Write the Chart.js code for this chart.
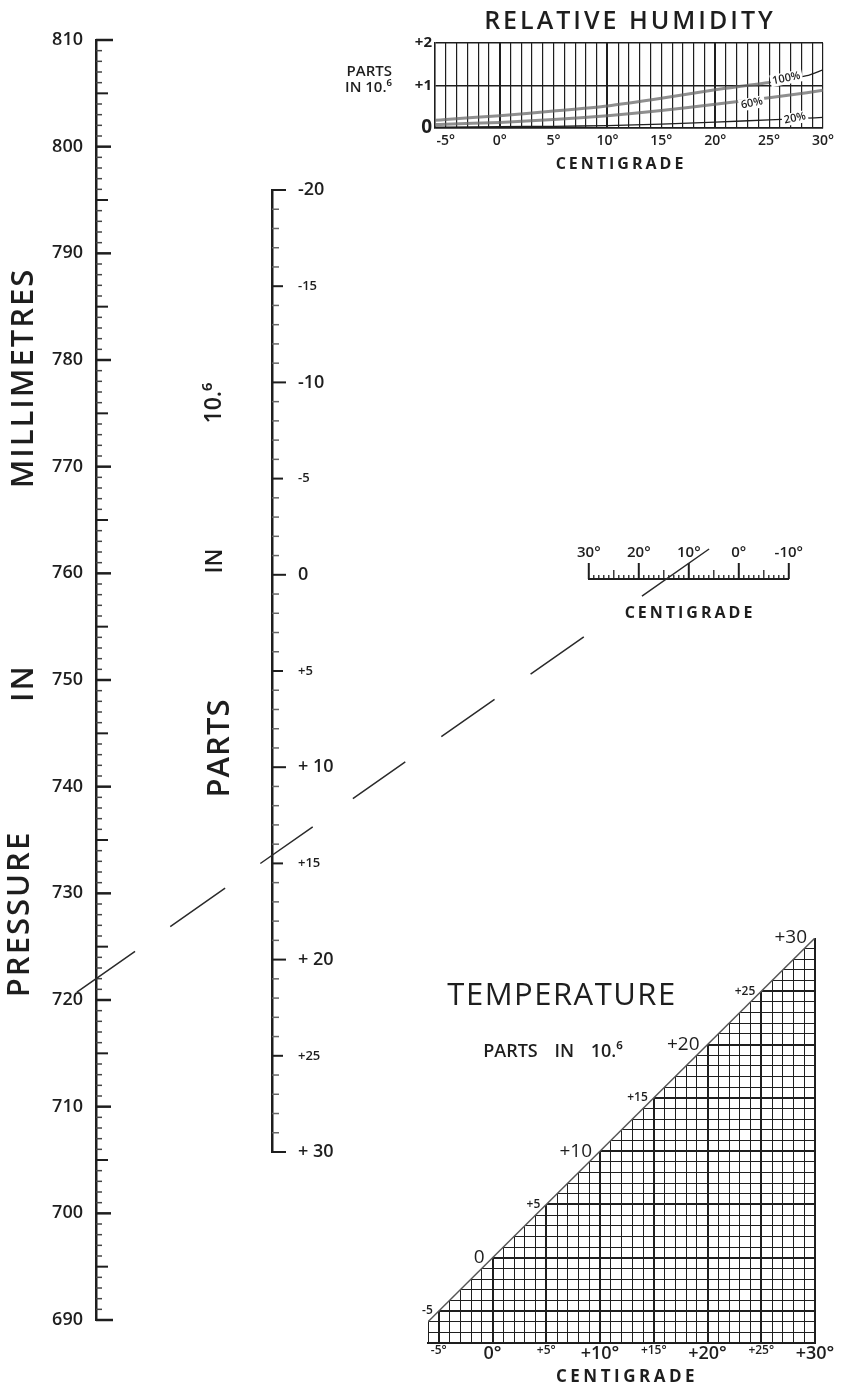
<!DOCTYPE html>
<html>
<head>
<meta charset="utf-8">
<title>Nomogram</title>
<script src="https://cdn.jsdelivr.net/npm/chart.js@4.4.1/dist/chart.umd.min.js"></script>
<style>
  html, body { margin: 0; padding: 0; background: #fff; }
  #page { position: relative; width: 848px; height: 1385px; overflow: hidden; color: #1e1e1e;
          font-family: 'Open Sans', 'DejaVu Sans', sans-serif; }
  #page canvas { position: absolute; z-index: 1; }
  #page canvas.overlay { z-index: 3; pointer-events: none; }
  .txt { position: absolute; z-index: 2; white-space: nowrap; line-height: 1; font-weight: 600;
         transform: translate(-50%, -50%); }
  .up { transform: translate(-50%, -50%) rotate(-90deg); }
</style>
</head>
<body>
<div id="page">
  <div class="txt" style="left:630px;top:19px;font-size:25px;letter-spacing:3px">RELATIVE HUMIDITY</div>
  <div class="txt" style="left:auto;right:456px;top:62px;transform:none;font-size:15px;line-height:16px;text-align:right">PARTS<br>IN 10.⁶</div>
  <div class="txt" style="left:621px;top:163px;font-size:16px;font-weight:700;letter-spacing:3px">CENTIGRADE</div>
  <div class="txt" style="left:690px;top:612px;font-size:16px;font-weight:700;letter-spacing:3px">CENTIGRADE</div>
  <div class="txt" style="left:562px;top:993px;font-size:31px;font-weight:500;letter-spacing:1.5px">TEMPERATURE</div>
  <div class="txt" style="left:553px;top:1050px;font-size:18px;word-spacing:12px">PARTS IN 10.⁶</div>
  <div class="txt" style="left:627px;top:1375px;font-size:17px;font-weight:700;letter-spacing:3.5px">CENTIGRADE</div>

  <div class="txt up" style="left:21px;top:378px;font-size:31px;letter-spacing:2px">MILLIMETRES</div>
  <div class="txt up" style="left:21px;top:683px;font-size:31px;letter-spacing:2px">IN</div>
  <div class="txt up" style="left:17px;top:914px;font-size:31px;letter-spacing:2px">PRESSURE</div>

  <div class="txt up" style="left:217px;top:748px;font-size:31px;letter-spacing:1px">PARTS</div>
  <div class="txt up" style="left:213px;top:561px;font-size:23px">IN</div>
  <div class="txt up" style="left:212px;top:403px;font-size:23px">10.⁶</div>
</div>
<script>
"use strict";

// pressure scale, millimetres
const pressureLabels = [810, 800, 790, 780, 770, 760, 750, 740, 730, 720, 710, 700, 690];

// middle scale, parts in 10^6
const partsValues = [-20, -15, -10, -5, 0, 5, 10, 15, 20, 25, 30];
const partsLabels = ['-20', '-15', '-10', '-5', '0', '+5', '+ 10', '+15', '+ 20', '+25', '+ 30'];

// relative humidity correction (parts in 10^6) against temperature
const humTemps = [-6, -5, 0, 5, 10, 15, 20, 25, 28.5, 30];
const rh100 = [0.18, 0.2, 0.29, 0.4, 0.52, 0.7, 0.9, 1.07, 1.23, 1.37];
const rh60 = [0.08, 0.09, 0.13, 0.2, 0.29, 0.41, 0.56, 0.71, 0.83, 0.89];
const rh20 = [0.02, 0.02, 0.03, 0.04, 0.055, 0.09, 0.14, 0.19, 0.23, 0.25];
const humNotes = ['100%', '60%', '20%'];
const humTickValues = [-5, 0, 5, 10, 15, 20, 25, 30];
const humTickLabels = ['-5°', '0°', '5°', '10°', '15°', '20°', '25°', '30°'];
const humYLabels = ['0', '+1', '+2'];

// centigrade scale beside the middle line
const centValues = [30, 20, 10, 0, -10];
const centLabels = ['30°', '20°', '10°', '0°', '-10°'];

// temperature correction: parts = centigrade
const tempEdge = [-6, 30];
const tempTickValues = [-5, 0, 5, 10, 15, 20, 25, 30];
const tempTickLabels = ['-5°', '0°', '+5°', '+10°', '+15°', '+20°', '+25°', '+30°'];
const tempDiagValues = [-5, 0, 5, 10, 15, 20, 25, 30];
const tempDiagLabels = ['-5', '0', '+5', '+10', '+15', '+20', '+25', '+30'];

// worked example drawn across the nomogram
const keyPressure = 722;
const keyTemp = 14.5;

const INK = '#1e1e1e';
Chart.defaults.font.family = "'Open Sans', 'DejaVu Sans', sans-serif";
Chart.defaults.color = INK;
Chart.defaults.animation = false;
Chart.defaults.events = [];
Chart.defaults.plugins.legend.display = false;
Chart.defaults.plugins.tooltip.enabled = false;

const place = {
    p: {left: 0, top: 0, w: 140, h: 1385},
    m: {left: 170, top: 0, w: 190, h: 1385},
    h: {left: 370, top: 0, w: 478, h: 175},
    c: {left: 560, top: 520, w: 260, h: 110},
    t: {left: 370, top: 900, w: 478, h: 485},
    o: {left: 0, top: 0, w: 848, h: 1385}
};

function makeCanvas(p, cls){
    const c = document.createElement('canvas');
    c.width = p.w; c.height = p.h;
    c.style.left = p.left + 'px'; c.style.top = p.top + 'px';
    if(cls) c.className = cls;
    document.getElementById('page').appendChild(c);
    return c;
}

function range(a, b){
    const out = [];
    for(let v = a; v <= b; v++) out.push(v);
    return out;
}

// small scale marks drawn off an axis line
function tickMarks(cfg){
    return {
        id: 'tickMarks',
        afterDraw(chart){
            const s = chart.scales[cfg.axis], ctx = chart.ctx;
            const base = cfg.base(s);
            ctx.save();
            for(const v of cfg.values){
                const p = s.getPixelForValue(v);
                const len = cfg.len(v);
                ctx.beginPath();
                ctx.lineWidth = cfg.width(v);
                ctx.strokeStyle = cfg.color ? cfg.color(v) : INK;
                if(s.isHorizontal()){
                    ctx.moveTo(p, base); ctx.lineTo(p, base + cfg.dir * len);
                }else{
                    ctx.moveTo(base, p); ctx.lineTo(base + cfg.dir * len, p);
                }
                ctx.stroke();
            }
            ctx.restore();
        }
    };
}

// pressure scale
const pressureChart = new Chart(makeCanvas(place.p), {
    type: 'scatter',
    data: {datasets: []},
    options: {
        responsive: false,
        layout: {padding: {top: 40, bottom: 65, left: 0, right: 0}},
        scales: {
            x: {display: false, min: 0, max: 1},
            y: {
                min: 690, max: 810,
                afterFit: s => { s.width = 96; },
                afterBuildTicks: s => { s.ticks = pressureLabels.map(v => ({value: v})); },
                grid: {display: false, drawTicks: false},
                border: {display: true, width: 2.5, color: INK},
                ticks: {padding: 13, font: {size: 18, weight: '600'}}
            }
        }
    },
    plugins: [tickMarks({
        axis: 'y', values: range(690, 810), dir: 1,
        base: s => s.right,
        len: v => (v === 690 || v === 810) ? 17 : v % 10 === 0 ? 15 : v % 5 === 0 ? 12 : 6,
        width: v => v % 10 === 0 ? 2.5 : v % 5 === 0 ? 2 : 1.5,
        color: v => v % 5 === 0 ? INK : '#444'
    })]
});

// parts in 10^6 scale
new Chart(makeCanvas(place.m), {
    type: 'scatter',
    data: {datasets: []},
    options: {
        responsive: false,
        layout: {padding: {top: 190, bottom: 233, left: 0, right: 0}},
        scales: {
            x: {display: false, min: 0, max: 1},
            y: {
                position: 'right', reverse: true, min: -20, max: 30,
                afterFit: s => { s.width = 88; },
                afterBuildTicks: s => { s.ticks = partsValues.map(v => ({value: v})); },
                grid: {display: false, drawTicks: false},
                border: {display: true, width: 2.5, color: INK},
                ticks: {
                    padding: 26,
                    callback: v => partsLabels[partsValues.indexOf(v)],
                    font: c => ({size: c.tick && c.tick.value % 10 === 0 ? 18 : 13, weight: '600'})
                }
            }
        }
    },
    plugins: [tickMarks({
        axis: 'y', values: range(-20, 30), dir: 1,
        base: s => s.left,
        len: v => v % 10 === 0 ? 14 : v % 5 === 0 ? 11 : 7,
        width: v => v % 5 === 0 ? 2 : 1.5,
        color: v => v % 5 === 0 ? INK : '#666'
    })]
});

// relative humidity
const curveNotes = {
    id: 'curveNotes',
    afterDatasetsDraw(chart){
        const {ctx, scales: {x, y}} = chart;
        const spots = [[26.6, 1.17], [23.4, 0.58], [27.4, 0.23]];
        ctx.save();
        ctx.font = "600 11px 'Open Sans', sans-serif";
        ctx.textAlign = 'center'; ctx.textBaseline = 'middle';
        humNotes.forEach((txt, i) => {
            ctx.save();
            ctx.translate(x.getPixelForValue(spots[i][0]), y.getPixelForValue(spots[i][1]));
            ctx.rotate(-0.2);
            const w = ctx.measureText(txt).width;
            ctx.fillStyle = '#fff';
            ctx.fillRect(-w / 2 - 2, -6, w + 4, 12);
            ctx.fillStyle = INK;
            ctx.fillText(txt, 0, 0);
            ctx.restore();
        });
        ctx.restore();
    }
};
const GREY = 'rgba(105,105,105,0.75)';
new Chart(makeCanvas(place.h), {
    type: 'line',
    data: {
        datasets: [
            {
                label: '100%', data: humTemps.map((t, i) => ({x: t, y: rh100[i]})),
                pointRadius: 0, tension: 0.2,
                segment: {
                    borderColor: c => c.p0.parsed.x >= 25 ? INK : GREY,
                    borderWidth: c => c.p0.parsed.x >= 25 ? 1.3 : 3
                }
            },
            {
                label: '60%', data: humTemps.map((t, i) => ({x: t, y: rh60[i]})),
                pointRadius: 0, tension: 0.2, borderColor: GREY, borderWidth: 3
            },
            {
                label: '20%', data: humTemps.map((t, i) => ({x: t, y: rh20[i]})),
                pointRadius: 0, tension: 0.2, borderColor: INK, borderWidth: 1.3
            }
        ]
    },
    options: {
        responsive: false,
        layout: {padding: {top: 43, right: 25, left: 0, bottom: 0}},
        scales: {
            x: {
                type: 'linear', min: -6, max: 30,
                afterFit: s => { s.height = 47; },
                grid: {color: INK, drawTicks: false, lineWidth: c => [0, 10, 20].includes(c.tick && c.tick.value) ? 2 : 1.2},
                border: {color: INK, width: 1.5},
                ticks: {
                    stepSize: 1, autoSkip: false, maxRotation: 0, padding: 5,
                    callback: v => { const i = humTickValues.indexOf(v); return i < 0 ? '' : humTickLabels[i]; },
                    font: {size: 14, weight: '600'}
                }
            },
            y: {
                min: 0, max: 2,
                afterFit: s => { s.width = 65; },
                grid: {color: INK, drawTicks: false, lineWidth: 1.5},
                border: {color: INK, width: 1.5},
                ticks: {
                    stepSize: 1, padding: 3,
                    callback: v => humYLabels[v],
                    font: c => ({size: c.tick && c.tick.value === 0 ? 19 : 15, weight: '700'})
                }
            }
        }
    },
    plugins: [curveNotes]
});

// centigrade scale for the worked line
const centChart = new Chart(makeCanvas(place.c), {
    type: 'scatter',
    data: {datasets: []},
    options: {
        responsive: false,
        layout: {padding: {top: 0, right: 25, left: 20, bottom: 0}},
        scales: {
            y: {display: false, min: 0, max: 1},
            x: {
                position: 'top', reverse: true, min: -10, max: 30,
                afterFit: s => { s.height = 59; },
                afterBuildTicks: s => { s.ticks = centValues.map(v => ({value: v})); },
                grid: {display: false, drawTicks: false},
                border: {display: true, width: 2, color: INK},
                ticks: {
                    padding: 17, maxRotation: 0,
                    callback: v => centLabels[centValues.indexOf(v)],
                    font: {size: 15, weight: '600'}
                }
            }
        }
    },
    plugins: [tickMarks({
        axis: 'x', values: range(-10, 30), dir: -1,
        base: s => s.bottom,
        len: v => v % 10 === 0 ? 16 : v % 5 === 0 ? 9 : 4,
        width: v => v % 10 === 0 ? 2 : 1.3
    })]
});

// temperature correction
const diagNotes = {
    id: 'diagNotes',
    afterDatasetsDraw(chart){
        const {ctx, scales: {x, y}} = chart;
        ctx.save();
        ctx.fillStyle = INK;
        ctx.textAlign = 'right'; ctx.textBaseline = 'middle';
        tempDiagValues.forEach((v, i) => {
            const big = v % 10 === 0;
            ctx.font = (big ? '500 19px' : '600 12px') + " 'Open Sans', sans-serif";
            ctx.fillText(tempDiagLabels[i], x.getPixelForValue(v) - (big ? 8 : 6), y.getPixelForValue(v));
        });
        ctx.restore();
    }
};
new Chart(makeCanvas(place.t), {
    type: 'line',
    data: {
        datasets: [{
            data: tempEdge.map(t => ({x: t, y: t})),
            pointRadius: 0, borderColor: '#555', borderWidth: 1.5,
            fill: 'end', backgroundColor: '#fff'
        }]
    },
    options: {
        responsive: false,
        layout: {padding: {top: 38, right: 33, left: 58, bottom: 0}},
        scales: {
            x: {
                type: 'linear', min: -6, max: 30,
                afterFit: s => { s.height = 42; },
                grid: {color: INK, drawTicks: false, lineWidth: c => c.tick && c.tick.value % 5 === 0 ? 2 : 1},
                border: {color: INK, width: 2},
                ticks: {
                    stepSize: 1, autoSkip: false, maxRotation: 0, padding: 0,
                    callback: v => { const i = tempTickValues.indexOf(v); return i < 0 ? '' : tempTickLabels[i]; },
                    font: c => ({size: c.tick && c.tick.value % 10 === 0 ? 18 : 12, weight: '600'})
                }
            },
            y: {
                min: -8, max: 30,
                afterFit: s => { s.width = 0; },
                grid: {
                    drawTicks: false,
                    color: c => c.tick && c.tick.value === 30 ? 'rgba(0,0,0,0)' : INK,
                    lineWidth: c => c.tick && c.tick.value % 5 === 0 ? 2 : 1
                },
                border: {display: false},
                ticks: {stepSize: 1, display: false}
            }
        }
    },
    plugins: [diagNotes]
});

// worked example line, from the pressure axis through the centigrade scale
const keyLine = {
    id: 'keyLine',
    afterDraw(chart){
        const ctx = chart.ctx;
        const ys = pressureChart.scales.y, xs = centChart.scales.x;
        const x1 = place.p.left + ys.right, y1 = place.p.top + ys.getPixelForValue(keyPressure);
        const x2 = place.c.left + xs.getPixelForValue(keyTemp), y2 = place.c.top + xs.bottom;
        const t0 = -0.0335, t1 = 1.0776;
        ctx.save();
        ctx.strokeStyle = '#2a2a2a';
        ctx.lineWidth = 1.5;
        ctx.setLineDash([71, 43, 67, 43, 64, 49, 64, 44, 65, 44, 65, 71, 82, 40]);
        ctx.beginPath();
        ctx.moveTo(x1 + t0 * (x2 - x1), y1 + t0 * (y2 - y1));
        ctx.lineTo(x1 + t1 * (x2 - x1), y1 + t1 * (y2 - y1));
        ctx.stroke();
        ctx.restore();
    }
};
new Chart(makeCanvas(place.o, 'overlay'), {
    type: 'scatter',
    data: {datasets: []},
    options: {
        responsive: false,
        scales: {x: {display: false}, y: {display: false}}
    },
    plugins: [keyLine]
});
</script>
</body>
</html>
